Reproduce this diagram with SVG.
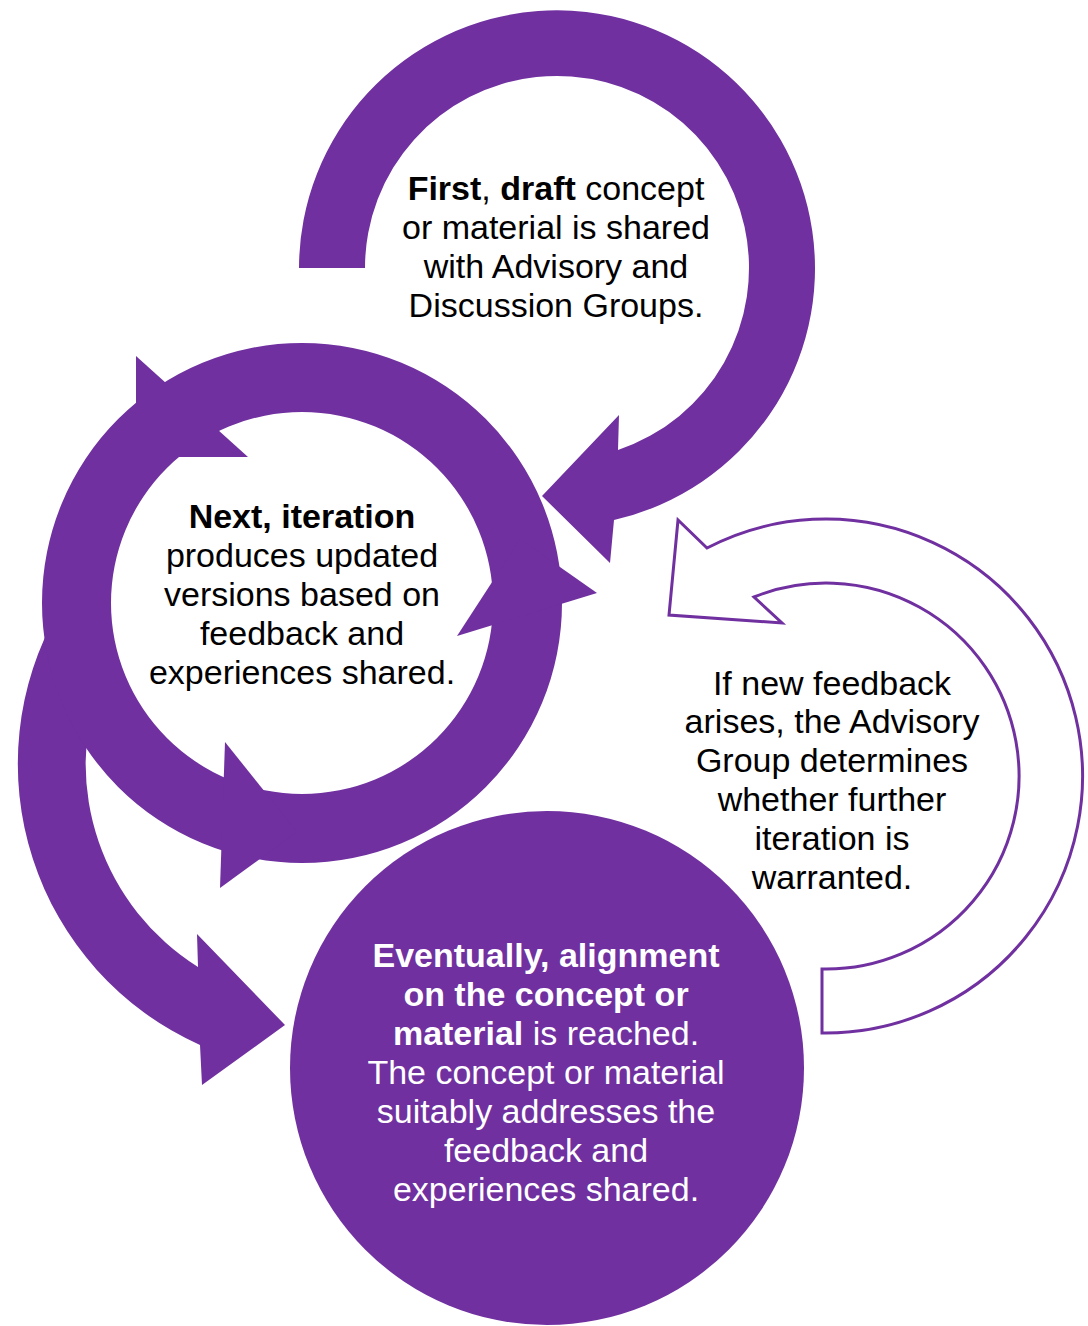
<svg xmlns="http://www.w3.org/2000/svg" width="1088" height="1326" viewBox="0 0 1088 1326">
<style>
.fill{fill:#7030A0}
.outline{fill:#ffffff;stroke:#7030A0;stroke-width:3;stroke-linejoin:miter}
text{font-family:"Liberation Sans",Arial,sans-serif;font-size:34px;text-anchor:middle}
.dark{fill:#000000}
.light{fill:#ffffff}
.b{font-weight:bold}
</style>
<rect x="0" y="0" width="1088" height="1326" fill="#ffffff"/>

<g id="connectors">
  <path id="arc-next-to-alignment" class="fill" d="M 59,610 A 308 308 0 0 0 200,1045 L 202,1085 L 285,1025 L 197,934 L 198,967 A 240 240 0 0 1 100,682 Z"/>
</g>

<g id="node-first">
  <path class="fill" d="M 299,268 A 258 258 0 1 1 614,520 L 610,563 L 542,496 L 619,415 L 618,450 A 192 192 0 1 0 365,268 Z"/>
  <text class="dark" x="556" y="200"><tspan class="b">First</tspan>, <tspan class="b">draft</tspan> concept</text>
  <text class="dark" x="556" y="239">or material is shared</text>
  <text class="dark" x="556" y="278">with Advisory and</text>
  <text class="dark" x="556" y="317">Discussion Groups.</text>
</g>

<g id="node-next">
  <path class="fill" fill-rule="evenodd" d="M 42,603 A 260 260 0 1 0 562,603 A 260 260 0 1 0 42,603 Z M 111,603 A 191 191 0 1 0 493,603 A 191 191 0 1 0 111,603 Z"/>
  <polygon class="fill" points="136,457 136,356 248,457"/>
  <polygon class="fill" points="520,539 597,593 457,636"/>
  <polygon class="fill" points="297,832 225,742 220,888"/>
  <text class="dark b" x="302" y="528">Next, iteration</text>
  <text class="dark" x="302" y="567">produces updated</text>
  <text class="dark" x="302" y="606">versions based on</text>
  <text class="dark" x="302" y="645">feedback and</text>
  <text class="dark" x="302" y="684">experiences shared.</text>
</g>

<g id="node-feedback">
  <path class="outline" d="M 822,1033 A 257 257 0 1 0 707,548 L 678,520 L 669,615 L 782,623 L 754,597 A 193 193 0 1 1 822,969 Z"/>
  <text class="dark" x="832" y="695">If new feedback</text>
  <text class="dark" x="832" y="733">arises, the Advisory</text>
  <text class="dark" x="832" y="772">Group determines</text>
  <text class="dark" x="832" y="811">whether further</text>
  <text class="dark" x="832" y="850">iteration is</text>
  <text class="dark" x="832" y="889">warranted.</text>
</g>

<g id="node-alignment">
  <circle class="fill" cx="547" cy="1068" r="257"/>
  <text class="light b" x="546" y="967">Eventually, alignment</text>
  <text class="light b" x="546" y="1006">on the concept or</text>
  <text class="light" x="546" y="1045"><tspan class="b">material</tspan> is reached.</text>
  <text class="light" x="546" y="1084">The concept or material</text>
  <text class="light" x="546" y="1123">suitably addresses the</text>
  <text class="light" x="546" y="1162">feedback and</text>
  <text class="light" x="546" y="1201">experiences shared.</text>
</g>
</svg>
